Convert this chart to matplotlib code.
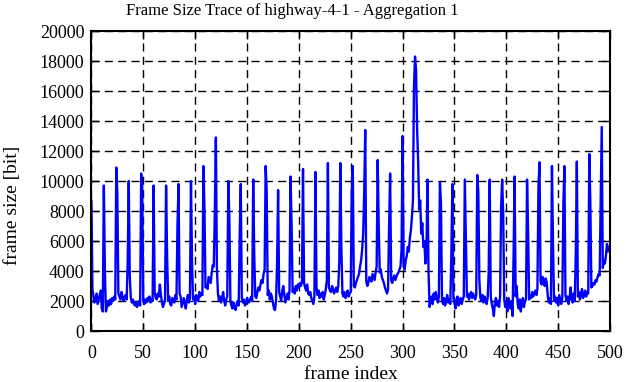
import matplotlib
matplotlib.use('Agg')
import matplotlib.pyplot as plt
import numpy as np

plt.rcParams['font.family'] = ['Liberation Serif', 'DejaVu Serif']

# frame sizes [bit], one row per GOP of 12 frames (I frame first)
gops = [
    [8700, 2800, 2300, 1900, 2200, 2500, 1800, 2100, 2400, 2700, 1500, 1300],
    [9700, 4000, 1300, 1600, 2000, 1700, 2100, 1800, 2200, 2000, 2300, 2100],
    [10900, 9200, 2500, 2300, 2100, 2600, 2200, 2000, 2300, 2400, 2100, 4700],
    [10000, 3600, 2200, 1900, 2100, 1800, 1700, 1900, 1600, 1800, 2000, 1700],
    [10500, 9600, 2000, 1800, 2100, 1900, 2200, 2000, 2300, 1900, 2100, 2000],
    [9700, 2600, 2200, 2100, 2500, 2300, 3100, 2400, 1900, 1600, 1800, 2100],
    [9700, 5000, 2000, 2300, 1800, 1700, 2200, 2000, 1900, 2400, 2100, 7100],
    [9800, 2500, 2300, 1600, 1900, 2200, 1800, 1500, 2100, 2400, 1900, 2200],
    [10000, 4700, 2100, 2300, 1800, 2400, 2200, 2000, 2600, 2300, 2500, 2400],
    [11000, 8200, 2900, 3000, 2800, 3600, 3400, 3200, 3900, 4400, 4300, 8000],
    [12900, 4200, 2500, 2000, 2300, 1900, 2200, 2600, 2000, 1700, 2100, 2300],
    [10000, 7500, 2000, 1700, 1500, 1900, 1600, 1400, 1800, 2000, 1700, 6500],
    [9800, 2200, 1900, 2100, 1700, 1800, 2200, 2000, 1900, 2100, 2300, 2000],
    [10100, 5000, 2300, 2200, 2600, 2900, 2700, 3100, 3400, 3200, 3800, 4100],
    [11000, 9300, 2400, 2700, 2100, 2500, 2300, 1900, 1500, 1400, 2000, 4500],
    [9400, 2600, 2300, 2000, 2700, 3000, 2400, 1900, 2200, 2500, 2100, 2700],
    [10300, 7100, 2600, 2800, 2500, 3000, 2700, 3100, 2900, 3200, 3000, 3300],
    [10800, 3200, 2900, 2700, 3100, 2500, 2400, 2600, 2200, 2000, 1800, 2300],
    [10600, 2900, 2400, 2700, 2200, 2500, 2300, 2600, 2100, 2400, 2800, 3400],
    [11200, 2900, 2700, 2600, 3000, 2800, 2500, 2700, 2900, 2600, 3000, 4600],
    [11200, 5500, 2500, 2300, 2600, 2200, 2400, 2700, 2300, 2500, 2600, 9300],
    [11000, 3000, 2900, 3200, 3400, 3600, 3800, 4300, 4700, 5400, 6500, 9200],
    [13400, 3300, 3000, 3200, 3600, 3500, 3300, 3800, 3600, 3400, 3900, 4300],
    [11400, 7000, 3900, 4100, 3600, 3400, 3200, 2900, 2700, 2500, 2800, 7000],
    [10500, 3400, 3200, 3500, 3700, 3400, 3600, 3800, 3900, 4100, 4300, 5400],
    [13000, 4300, 4100, 4700, 5000, 5600, 5300, 6200, 6700, 7600, 8700, 16300],
    [18300, 17400, 13500, 11300, 8100, 8700, 6500, 7200, 5600, 6000, 4500, 5200],
    [10100, 4000, 1600, 2000, 2300, 1800, 2500, 2100, 2600, 2200, 1900, 2300],
    [9900, 8500, 2100, 1800, 2200, 1700, 2000, 2400, 1900, 2100, 1800, 5100],
    [9800, 2200, 1900, 1500, 2100, 2300, 1700, 2000, 2200, 1800, 2100, 2300],
    [10100, 6000, 2300, 2500, 2100, 2400, 2600, 2200, 2500, 2300, 2100, 2400],
    [10400, 9300, 3400, 2200, 2000, 2400, 1900, 2300, 2100, 1800, 2200, 3900],
    [10100, 2300, 1800, 1500, 1000, 1900, 2200, 1700, 2000, 1600, 2300, 8300],
    [10100, 7800, 2100, 1600, 1900, 1300, 2200, 1800, 1500, 2000, 1000, 5000],
    [10300, 2300, 3000, 1800, 1500, 2100, 1300, 1900, 2200, 1600, 2000, 2100],
    [10100, 6700, 2100, 2400, 2200, 2600, 2300, 2500, 2700, 2400, 2800, 9700],
    [11250, 3300, 3100, 3600, 3400, 3000, 3500, 3200, 2300, 1900, 2200, 1800],
    [11000, 5900, 2000, 2300, 1900, 2200, 1700, 2400, 2100, 1800, 2200, 8400],
    [11000, 2400, 2000, 2300, 1800, 2200, 2900, 2100, 1900, 2500, 2000, 5200],
    [11300, 2300, 2600, 2100, 2500, 2800, 2200, 2400, 2700, 2300, 2600, 2500],
    [11800, 8600, 2900, 3000, 3200, 3100, 3400, 3300, 3600, 3800, 3700, 8600],
    [13600, 4200, 4700, 4500, 5000, 5800, 5300, 5600],
]

frame_size = np.concatenate([np.array(g) for g in gops])
frame_index = np.arange(len(frame_size))

fig = plt.figure(figsize=(6.26, 3.82), dpi=100)
ax = fig.add_axes([0.146, 0.1335, 0.8285, 0.7853])

ax.plot(frame_index, frame_size, color='#0000ff', lw=1.7)

ax.set_xlim(0, 500)
ax.set_ylim(0, 20000)
ax.set_xticks(np.arange(0, 501, 50))
ax.set_yticks(np.arange(0, 20001, 2000))
ax.grid(True, color='black', ls=(0, (5.8, 3.8)), lw=1.0)
ax.tick_params(direction='in', top=True, right=True, length=6, width=1,
               labelsize=13, colors='black')
ax.tick_params(axis='x', pad=10)
ax.tick_params(axis='y', pad=5)
for s in ax.spines.values():
    s.set_linewidth(1.5)

# gnuplot puts title / ylabel relative to the canvas, not the axes
fig.text(0.467, 0.972, 'Frame Size Trace of highway-4-1 - Aggregation 1',
         fontsize=12, ha='center', va='center')
fig.text(0.02, 0.463, 'frame size [bit]', fontsize=14, rotation=90,
         ha='center', va='center')
ax.set_xlabel('frame index', fontsize=14, labelpad=3)

fig.savefig('out.png', dpi=100)
